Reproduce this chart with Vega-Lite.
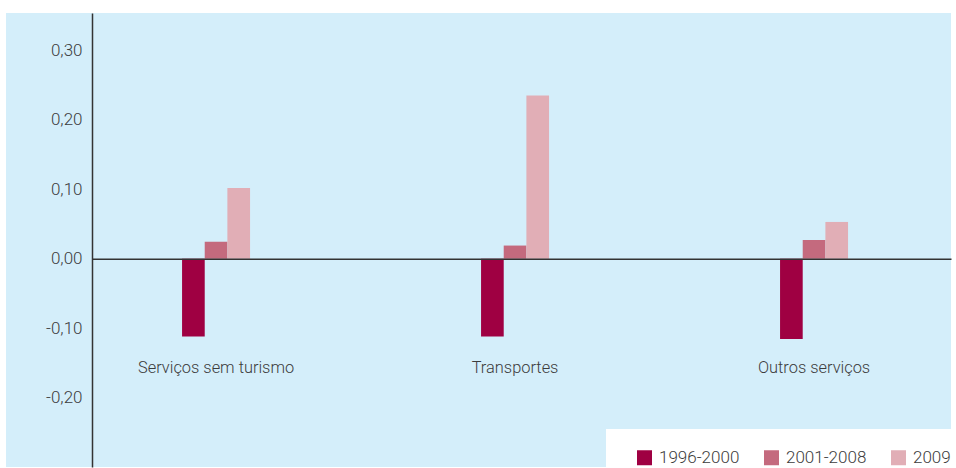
{
  "$schema": "https://vega.github.io/schema/vega-lite/v6.json",
  "width": 945,
  "height": 454,
  "autosize": {"type": "none"},
  "padding": {"left": 6, "top": 13, "right": 5, "bottom": 1},
  "background": "#ffffff",
  "config": {
    "view": {"fill": "#d4eefa", "stroke": null},
    "font": "Roboto"
  },
  "data": {
    "values": [
      {"category": "Serviços sem turismo", "period": "1996-2000", "value": -0.112},
      {"category": "Serviços sem turismo", "period": "2001-2008", "value": 0.0245},
      {"category": "Serviços sem turismo", "period": "2009", "value": 0.102},
      {"category": "Transportes", "period": "1996-2000", "value": -0.112},
      {"category": "Transportes", "period": "2001-2008", "value": 0.019},
      {"category": "Transportes", "period": "2009", "value": 0.235},
      {"category": "Outros serviços", "period": "1996-2000", "value": -0.1155},
      {"category": "Outros serviços", "period": "2001-2008", "value": 0.027},
      {"category": "Outros serviços", "period": "2009", "value": 0.053}
    ]
  },
  "mark": {"type": "bar", "strokeWidth": 0},
  "encoding": {
    "x": {
      "field": "category",
      "type": "nominal",
      "sort": ["Serviços sem turismo", "Transportes", "Outros serviços"],
      "scale": {"paddingInner": 0.7726, "paddingOuter": 0.4666, "align": 0.631},
      "axis": {
        "title": null,
        "orient": "bottom",
        "offset": -208.3,
        "zindex": 1,
        "domainColor": "#333333",
        "domainWidth": 1.5,
        "domainDash": [0, 86, 2000],
        "ticks": false,
        "tickSize": 0,
        "labelPadding": 101,
        "labelBaseline": "top",
        "labelAngle": 0,
        "labelFontSize": 16.4,
        "labelFontWeight": 300,
        "labelColor": "#3c3c3c"
      }
    },
    "xOffset": {
      "field": "period",
      "type": "nominal",
      "sort": ["1996-2000", "2001-2008", "2009"],
      "scale": {"paddingInner": 0, "paddingOuter": 0}
    },
    "y": {
      "field": "value",
      "type": "quantitative",
      "scale": {"domain": [-0.3, 0.354], "nice": false, "zero": false},
      "axis": {
        "title": null,
        "values": [-0.2, -0.1, 0, 0.1, 0.2, 0.3],
        "offset": -86,
        "zindex": 1,
        "grid": false,
        "ticks": false,
        "tickSize": 0,
        "labelPadding": 10,
        "domainColor": "#333333",
        "domainWidth": 1.5,
        "labelExpr": "replace(replace(format(datum.value, '.2f'), '.', ','), '\u2212', '-')",
        "labelFontSize": 17,
        "labelFontWeight": 300,
        "labelColor": "#3c3c3c"
      }
    },
    "color": {
      "field": "period",
      "type": "nominal",
      "sort": ["1996-2000", "2001-2008", "2009"],
      "scale": {"range": ["#9f0042", "#c46a7e", "#e1aeb6"]},
      "legend": {
        "title": null,
        "orient": "none",
        "legendX": 600,
        "legendY": 416,
        "direction": "horizontal",
        "fillColor": "#ffffff",
        "padding": 20,
        "symbolType": "square",
        "symbolSize": 225,
        "symbolStrokeWidth": 0,
        "symbolOffset": 10,
        "labelOffset": 6,
        "columnPadding": 13,
        "labelFontSize": 17,
        "labelFontWeight": 300,
        "labelColor": "#3c3c3c"
      }
    }
  }
}
